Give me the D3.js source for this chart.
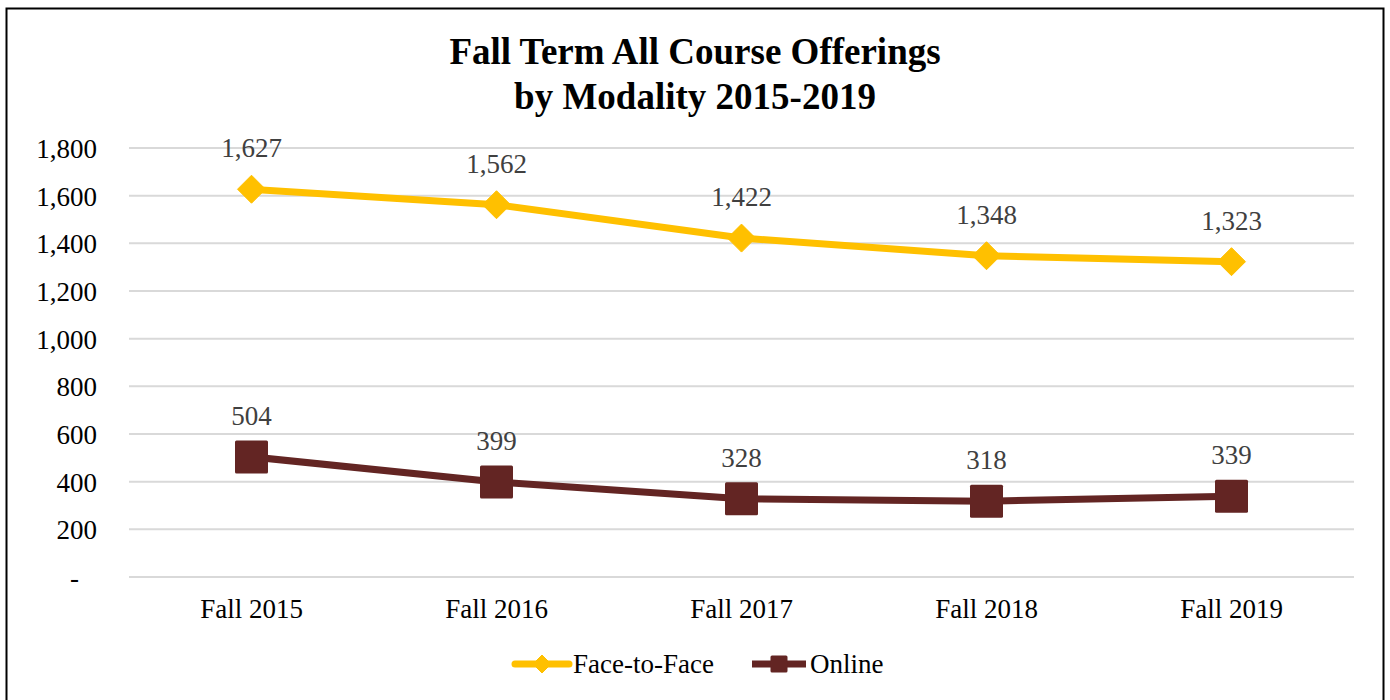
<!DOCTYPE html>
<html lang="en">
<head>
  <meta charset="UTF-8">
  <title>Fall Term All Course Offerings by Modality 2015-2019</title>
  <script src="https://cdn.jsdelivr.net/npm/d3@7"></script>
  <style>
    body { margin: 0; background: #fff; }
    svg text { font-family: "Liberation Serif", "Times New Roman", serif; }
    .title { font-size: 37px; font-weight: bold; text-anchor: middle; fill: #000; }
    .tick text { font-size: 27px; fill: #000; }
    .label { font-size: 27px; fill: #404040; text-anchor: middle; }
    .legend text { font-size: 27px; fill: #000; }
  </style>
</head>
<body>
  <svg width="1390" height="700"></svg>
  <script>
    // data
    var terms = ["Fall 2015", "Fall 2016", "Fall 2017", "Fall 2018", "Fall 2019"];
    var faceToFace = [1627, 1562, 1422, 1348, 1323];
    var online = [504, 399, 328, 318, 339];
    var yTicks = [0, 200, 400, 600, 800, 1000, 1200, 1400, 1600, 1800];

    var series = [
      { name: "Face-to-Face", values: faceToFace, color: "#FFC000", shape: "diamond" },
      { name: "Online", values: online, color: "#632523", shape: "square" }
    ];

    var svg = d3.select("svg");

    // outer frame
    svg.append("rect")
      .attr("x", 6.5).attr("y", 8.5)
      .attr("width", 1377).attr("height", 700)
      .attr("fill", "none").attr("stroke", "#000").attr("stroke-width", 2);

    var plotLeft = 129, plotRight = 1354, plotTop = 148, plotBottom = 577;

    var x = d3.scaleBand().domain(terms).range([plotLeft, plotRight]);
    var y = d3.scaleLinear().domain([0, 1800]).range([plotBottom, plotTop]);
    var fmt = d3.format(",");

    // title
    svg.append("text").attr("class", "title").attr("x", 695).attr("y", 64).text("Fall Term All Course Offerings");
    svg.append("text").attr("class", "title").attr("x", 695).attr("y", 109).text("by Modality 2015-2019");

    // grid lines
    svg.append("g").selectAll("line")
      .data(yTicks).enter().append("line")
      .attr("x1", plotLeft).attr("x2", plotRight)
      .attr("y1", function (d) { return y(d); })
      .attr("y2", function (d) { return y(d); })
      .attr("stroke", "#D9D9D9").attr("stroke-width", 2);

    // y axis
    var yAxis = svg.append("g")
      .attr("transform", "translate(" + (plotLeft - 32) + ",0)")
      .call(d3.axisLeft(y).tickValues(yTicks).tickSize(0)
        .tickFormat(function (d) { return d === 0 ? "-" : fmt(d); }));
    yAxis.select(".domain").remove();
    yAxis.selectAll("text").attr("x", 0).attr("dy", "0.35em");
    yAxis.selectAll(".tick").filter(function (d) { return d === 0; })
      .select("text").attr("x", -18);

    // x axis
    var xAxis = svg.append("g")
      .attr("transform", "translate(0," + plotBottom + ")")
      .call(d3.axisBottom(x).tickSize(0));
    xAxis.select(".domain").remove();
    xAxis.selectAll("text").attr("y", 32).attr("dy", "0.35em");

    var line = d3.line()
      .x(function (d, i) { return x(terms[i]) + x.bandwidth() / 2; })
      .y(function (d) { return y(d); });

    function drawMarker(g, shape, cx, cy, size, color) {
      if (shape === "diamond") {
        g.append("path")
          .attr("d", "M" + cx + "," + (cy - size) + "L" + (cx + size) + "," + cy +
            "L" + cx + "," + (cy + size) + "L" + (cx - size) + "," + cy + "Z")
          .attr("fill", color).attr("stroke", color).attr("stroke-width", 1).attr("stroke-linejoin", "round");
      } else {
        g.append("rect")
          .attr("x", cx - size).attr("y", cy - size)
          .attr("width", size * 2).attr("height", size * 2)
          .attr("rx", 1.5)
          .attr("fill", color);
      }
    }

    series.forEach(function (s) {
      var g = svg.append("g");
      g.append("path")
        .datum(s.values)
        .attr("d", line)
        .attr("fill", "none")
        .attr("stroke", s.color)
        .attr("stroke-width", 7)
        .attr("stroke-linejoin", "round")
        .attr("stroke-linecap", "round");

      s.values.forEach(function (v, i) {
        var cx = x(terms[i]) + x.bandwidth() / 2, cy = y(v);
        drawMarker(g, s.shape, cx, cy, s.shape === "diamond" ? 14 : 16.5, s.color);
        g.append("text").attr("class", "label")
          .attr("x", cx).attr("y", cy - 32)
          .text(fmt(v));
      });
    });

    // legend
    var legend = svg.append("g").attr("class", "legend");
    var legendItems = [
      { s: series[0], x0: 513 },
      { s: series[1], x0: 750 }
    ];
    legendItems.forEach(function (item) {
      var ly = 664;
      legend.append("line")
        .attr("x1", item.x0 + 2).attr("x2", item.x0 + 56)
        .attr("y1", ly).attr("y2", ly)
        .attr("stroke", item.s.color).attr("stroke-width", 7)
        .attr("stroke-linecap", item.s.shape === "diamond" ? "round" : "butt");
      drawMarker(legend, item.s.shape, item.x0 + 29, ly, item.s.shape === "diamond" ? 9 : 8.5, item.s.color);
      legend.append("text")
        .attr("x", item.x0 + 60).attr("y", ly).attr("dy", "0.35em")
        .text(item.s.name);
    });
  </script>
</body>
</html>
